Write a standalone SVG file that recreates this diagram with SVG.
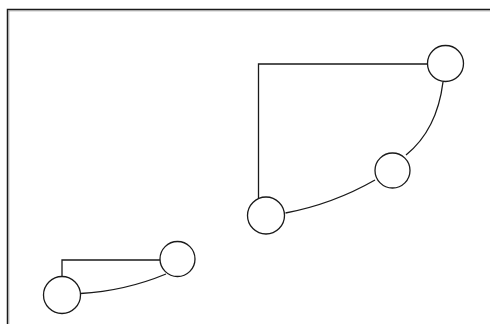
<svg xmlns="http://www.w3.org/2000/svg" width="490" height="324" viewBox="0 0 490 324">
<style>
.node{fill:#fff;stroke:#1a1a1a;stroke-width:1.3}
.edge{fill:none;stroke:#1a1a1a;stroke-width:1.3}
</style>
<rect x="0" y="0" width="490" height="324" fill="#fff"/>
<g id="frame">
<path d="M7.5 324V9.5H490" fill="none" stroke="#1a1a1a" stroke-width="1.5"/>
<path d="M8.8 324V10.8H490" fill="none" stroke="#a0a0a0" stroke-width="1"/>
</g>
<g id="connectors">
<path class="edge" d="M258.5 199V64H427"/>
<path class="edge" d="M443 82Q437 130 406 155"/>
<path class="edge" d="M375 180Q333 204 285.5 213"/>
<path class="edge" d="M62 277V260H160"/>
<path class="edge" d="M166 274Q125 291 80.5 293.5"/>
</g>
<g id="nodeA"><circle class="node" cx="445.5" cy="63.5" r="18"/></g>
<g id="nodeB"><circle class="node" cx="392.5" cy="170.5" r="17.5"/></g>
<g id="nodeC"><circle class="node" cx="266" cy="215.5" r="18.5"/></g>
<g id="nodeD"><circle class="node" cx="177.5" cy="259" r="17.5"/></g>
<g id="nodeE"><circle class="node" cx="62" cy="295" r="18.5"/></g>
</svg>
